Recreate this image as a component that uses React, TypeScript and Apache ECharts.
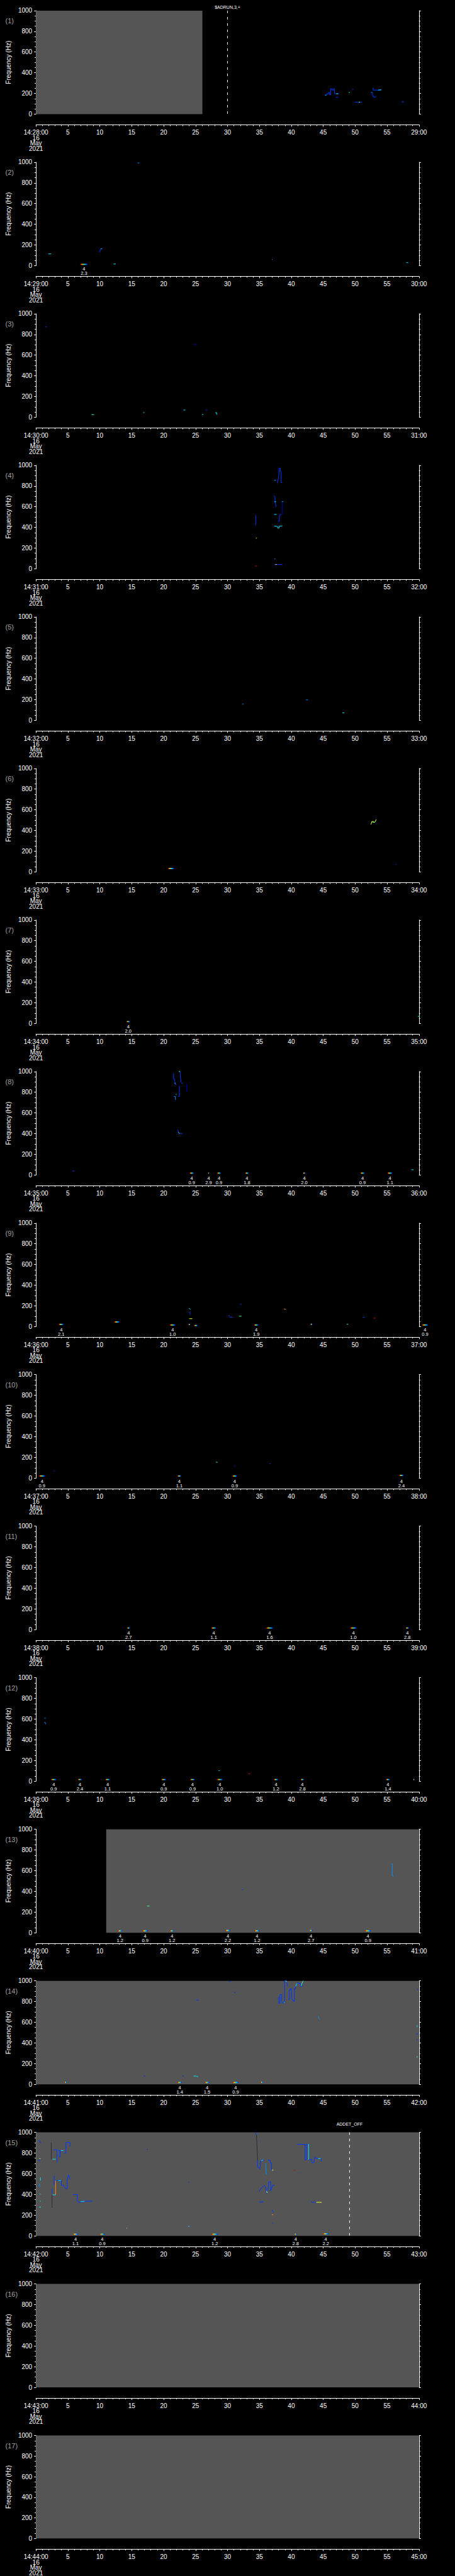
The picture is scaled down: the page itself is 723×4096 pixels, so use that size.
import React, { useEffect, useRef } from 'react';
import * as echarts from 'echarts';

type Pt = [number, number];
type Track = [number, Pt[]];
type Blip = [number, number, number, string | null];

const S = 723 / 1024;
const W = 723;
const H = 4096;
const FONT = "'Liberation Sans', 'DejaVu Sans', Arial, sans-serif";

// tick label data
const hourLabel = '14';
const panelMinutes = [28, 29, 30, 31, 32, 33, 34, 35, 36, 37, 38, 39, 40, 41, 42, 43, 44];
const dateLines = ['16', 'May', '2021'];
const blipCode = '4';

// intensity level -> colour (0 = faint connector)
const levelColors = ['#2c2c2c', '#0000c8', '#0038ff', '#0090ff', '#00e8ff', '#50ff90', '#e8ff20', '#ff8c00', '#e00000'];

// data coverage (grey): [panel, t0, t1]
const coverage: [number, number, number][] = [[0, 0, 26.07], [12, 11, 60], [13, 0, 60], [14, 0, 60], [15, 0, 60], [16, 0, 60]];
// event markers: [panel, t, label]
const eventMarks: [number, number, string][] = [[0, 30.0, '$ADRUN,3,+'], [14, 49.12, 'ADDET_OFF']];

const p1Tracks: Track[] = [
  [2, [[45.3, 183], [45.5, 183], [45.5, 195], [45.8, 195], [45.8, 209], [46.0, 209], [46.0, 187], [46.16, 187], [46.16, 245], [46.35, 245], [46.35, 232], [46.58, 232], [46.58, 245], [46.77, 245], [46.77, 197], [47.5, 197]]],
  [4, [[45.3, 183], [45.45, 183]]],
  [5, [[47.05, 197], [47.3, 197]]],
  [2, [[47.0, 162], [47.3, 162]]],
  [4, [[48.98, 209], [49.17, 209]]],
  [2, [[49.5, 236], [49.6, 240], [49.7, 240]]],
  [2, [[49.93, 116], [50.3, 116], [50.4, 112], [50.6, 112], [50.65, 116], [51.07, 116]]],
  [5, [[50.55, 116], [50.75, 116]]],
  [2, [[52.79, 255], [52.81, 232], [53.67, 232], [54.11, 235]]],
  [4, [[53.6, 232], [54.1, 235]]],
  [2, [[52.51, 209], [52.72, 209], [52.72, 176], [52.84, 176], [52.84, 166], [53.3, 166]]],
  [4, [[52.5, 209], [52.6, 209]]],
  [2, [[57.25, 119], [57.66, 119]]],
];
const p1Blips: Blip[] = [];

const p2Tracks: Track[] = [
  [4, [[1.93, 114], [2.38, 114]]],
  [2, [[10.0, 130], [10.05, 155], [10.15, 160], [10.4, 165]]],
  [4, [[10.15, 162], [10.3, 165]]],
  [4, [[12.15, 16], [12.5, 16]]],
  [3, [[15.9, 993], [16.2, 993]]],
  [3, [[36.95, 58], [37.05, 64]]],
  [4, [[58.0, 29], [58.3, 29]]],
];
const p2Blips: Blip[] = [[6.97, 8.06, 12, '2.3']];

const p3Tracks: Track[] = [
  [2, [[1.47, 873], [1.7, 873]]],
  [5, [[8.7, 26], [9.1, 24]]],
  [4, [[16.8, 45], [17.0, 45]]],
  [4, [[23.1, 70], [23.4, 70]]],
  [1, [[24.8, 704], [25.1, 704]]],
  [4, [[26.0, 26], [26.2, 26]]],
  [2, [[26.6, 70], [26.8, 70]]],
  [4, [[28.1, 45], [28.3, 45], [28.3, 28], [28.4, 26]]],
];
const p3Blips: Blip[] = [];

const p4Tracks: Track[] = [
  [2, [[34.4, 518], [34.45, 505], [34.45, 470], [34.4, 425], [34.4, 418]]],
  [6, [[34.45, 296], [34.6, 296]]],
  [8, [[34.35, 26], [34.6, 26]]],
  [3, [[37.3, 855], [37.6, 855]]],
  [2, [[37.81, 826], [38.03, 893], [38.12, 974], [38.26, 974], [38.26, 941], [38.4, 941], [38.4, 832], [38.58, 832]]],
  [2, [[37.3, 706], [37.45, 690], [37.45, 650], [37.55, 620], [37.6, 597]]],
  [4, [[37.35, 648], [37.6, 648]]],
  [4, [[38.5, 648], [38.7, 648]]],
  [1, [[38.55, 648], [38.55, 525]]],
  [4, [[37.3, 525], [37.7, 525]]],
  [2, [[37.9, 457], [38.1, 460], [38.15, 519], [38.4, 525]]],
  [4, [[37.3, 412], [37.8, 410], [37.9, 392], [38.05, 392], [38.1, 412], [38.6, 414]]],
  [3, [[37.35, 96], [37.5, 96]]],
  [2, [[37.3, 41], [38.6, 41]]],
  [6, [[37.5, 41], [37.7, 41]]],
];
const p4Blips: Blip[] = [];

const p5Tracks: Track[] = [
  [3, [[32.3, 156], [32.5, 156]]],
  [3, [[42.3, 198], [42.6, 198]]],
  [4, [[48.0, 73], [48.3, 73]]],
];
const p5Blips: Blip[] = [];

const p6Tracks: Track[] = [
  [6, [[52.48, 458], [52.61, 487], [52.88, 487], [53.02, 477], [53.15, 487], [53.29, 507]]],
  [5, [[52.7, 480], [53.1, 480]]],
  [1, [[56.3, 72], [56.5, 72]]],
];
const p6Blips: Blip[] = [[20.7, 21.6, 33, null]];

const p7Tracks: Track[] = [
  [4, [[59.8, 68], [60.3, 68]]],
];
const p7Blips: Blip[] = [[14.2, 14.7, 18, '2.0']];

const p8Tracks: Track[] = [
  [2, [[5.7, 38], [6.0, 38]]],
  [2, [[21.55, 982], [21.55, 926], [21.73, 926], [21.73, 907], [21.87, 875], [22.0, 875]]],
  [4, [[21.7, 890], [21.85, 880]]],
  [2, [[22.36, 1000], [22.59, 1000], [22.59, 972], [22.72, 898], [22.86, 889], [22.95, 879]]],
  [5, [[22.4, 1000], [22.55, 1000]]],
  [3, [[21.6, 758], [21.85, 758], [21.85, 725]]],
  [4, [[21.9, 779], [22.05, 779]]],
  [2, [[22.27, 760], [22.46, 760], [22.46, 861]]],
  [1, [[23.64, 879], [23.64, 805]]],
  [2, [[22.22, 438], [22.32, 414], [22.46, 401], [22.78, 401], [22.95, 395]]],
  [4, [[22.3, 414], [22.45, 401]]],
  [4, [[58.8, 51], [59.15, 51]]],
];
const p8Blips: Blip[] = [
  [24.1, 24.7, 18, '0.9'], [26.95, 27.15, 18, '2.9'], [28.4, 28.95, 18, '0.9'], [32.8, 33.3, 18, '1.8'],
  [41.85, 42.2, 18, '2.0'], [50.85, 51.45, 18, '0.9'], [55.1, 55.8, 18, '1.1'],
];

const p9Tracks: Track[] = [
  [4, [[23.95, 178], [24.1, 170], [24.2, 165]]],
  [2, [[24.0, 146], [24.1, 140], [24.15, 120], [24.25, 115]]],
  [6, [[24.0, 76], [24.5, 76]]],
  [2, [[30.2, 110], [30.3, 95], [30.4, 90], [30.8, 90]]],
  [5, [[31.8, 100], [32.2, 100]]],
  [2, [[31.95, 220], [32.1, 215], [32.2, 212]]],
  [7, [[38.85, 170], [39.15, 165]]],
  [5, [[48.7, 22], [48.9, 22]]],
  [2, [[51.2, 90], [51.5, 90]]],
  [8, [[52.9, 81], [53.2, 81]]],
];
const p9Blips: Blip[] = [
  [3.6, 4.3, 21, '2.1'], [21.0, 21.8, 15, '1.0'], [34.2, 34.8, 15, '1.9'], [60.5, 61.4, 15, '0.9'],
  [12.3, 13.05, 44, null], [23.9, 24.15, 20, null], [24.8, 25.3, 10, null], [43.0, 43.3, 22, null],
];

const p10Tracks: Track[] = [
  [2, [[2.75, 68], [2.9, 68]]],
  [5, [[28.2, 155], [28.45, 152]]],
  [2, [[31.05, 116], [31.2, 116]]],
  [2, [[36.6, 139], [36.75, 139]]],
];
const p10Blips: Blip[] = [
  [0.5, 1.4, 20, '0.9'], [22.2, 22.7, 20, '1.1'], [30.8, 31.45, 20, '0.9'], [56.95, 57.55, 26, '2.4'],
];

const p11Tracks: Track[] = [];
const p11Blips: Blip[] = [
  [14.3, 14.7, 16, '2.7'], [27.5, 28.2, 16, '1.1'], [36.1, 37.1, 16, '1.6'], [49.25, 50.2, 16, '1.0'], [57.95, 58.4, 16, '2.8'],
];

const p12Tracks: Track[] = [
  [3, [[1.34, 608], [1.52, 608]]],
  [3, [[1.3, 568], [1.45, 568], [1.5, 555], [1.55, 550]]],
  [4, [[28.6, 100], [28.8, 102]]],
  [8, [[33.3, 72], [33.55, 72]]],
];
const p12Blips: Blip[] = [
  [2.4, 3.15, 16, '0.9'], [6.6, 7.15, 16, '2.4'], [10.9, 11.55, 16, '1.1'], [19.7, 20.35, 16, '0.9'],
  [24.2, 24.85, 16, '0.9'], [28.4, 29.2, 16, '1.0'], [37.3, 37.9, 16, '1.2'], [41.5, 41.95, 16, '2.8'],
  [54.85, 55.4, 16, '1.4'], [59.1, 59.3, 16, null],
];

const p13Tracks: Track[] = [
  [5, [[17.4, 258], [17.8, 258]]],
  [2, [[32.2, 416], [32.4, 416]]],
  [3, [[55.7, 667], [55.8, 667], [55.8, 550], [56.0, 550]]],
];
const p13Blips: Blip[] = [
  [12.85, 13.5, 18, '1.2'], [16.7, 17.5, 18, '0.9'], [21.0, 21.6, 18, '1.2'], [29.7, 30.4, 22, '2.2'],
  [34.25, 35.0, 18, '1.2'], [42.85, 43.3, 22, '2.7'], [51.55, 52.45, 18, '0.9'],
];

const p14Tracks: Track[] = [
  [2, [[16.9, 80], [17.1, 80]]],
  [2, [[22.96, 80], [23.14, 80]]],
  [4, [[24.7, 80], [25.1, 80], [25.2, 74], [25.4, 74]]],
  [2, [[30.2, 994], [30.5, 994]]],
  [2, [[31.04, 887], [31.27, 887]]],
  [2, [[25.1, 814], [25.5, 814]]],
  [3, [[44.2, 660], [44.3, 640], [44.45, 625]]],
  [2, [[38.03, 846], [38.03, 782], [38.22, 782], [38.22, 868], [38.49, 868], [38.49, 797], [38.76, 782], [38.76, 797], [38.94, 797], [38.94, 1000], [39.22, 1000], [39.22, 990], [39.4, 969], [39.4, 947]]],
  [4, [[38.8, 790], [38.94, 797]]],
  [5, [[39.1, 1000], [39.3, 990]]],
  [2, [[39.53, 818], [39.67, 818], [39.67, 911], [39.85, 911], [39.85, 925], [40.03, 925], [40.03, 825], [40.3, 811], [40.3, 803], [40.48, 803], [40.48, 925], [40.66, 925], [40.66, 947], [40.85, 968], [40.98, 982], [41.21, 975], [41.44, 975], [41.44, 947], [41.67, 947], [41.67, 982], [41.85, 1000]]],
  [4, [[40.66, 947], [40.9, 975]]],
  [5, [[41.5, 950], [41.85, 1000]]],
  [2, [[59.75, 925], [59.75, 911]]],
  [2, [[61.1, 920], [61.1, 900]]],
  [6, [[60.8, 747], [61.1, 747]]],
  [2, [[60.9, 747], [60.9, 715]]],
  [4, [[59.7, 570], [59.7, 552]]],
  [5, [[61.05, 570], [61.0, 540]]],
  [2, [[59.7, 497], [59.7, 480]]],
  [4, [[60.85, 510], [60.85, 470]]],
  [2, [[59.65, 437], [59.7, 423]]],
  [4, [[61.0, 418], [61.1, 408]]],
  [4, [[60.9, 331], [61.1, 331]]],
  [4, [[60.8, 282], [61.1, 282]]],
  [5, [[59.6, 264], [59.8, 264]]],
];
const p14Blips: Blip[] = [
  [22.2, 22.85, 17, '1.4'], [26.45, 27.15, 17, '1.5'], [30.8, 31.75, 17, '0.9'], [4.5, 4.8, 20, null], [35.2, 35.55, 20, null],
];

const p15Tracks: Track[] = [
  [2, [[0.6, 925], [0.6, 905], [0.8, 899]]],
  [6, [[0.5, 745], [0.7, 745]]],
  [2, [[0.55, 745], [0.55, 718]]],
  [4, [[0.7, 565], [0.7, 534]]],
  [3, [[0.55, 506], [0.6, 473]]],
  [4, [[0.6, 408], [0.7, 399]]],
  [4, [[0.6, 335], [0.75, 335]]],
  [4, [[0.5, 278], [0.8, 278]]],
  [0, [[2.4, 901], [2.4, 741]]],
  [4, [[2.6, 741], [3.1, 741]]],
  [2, [[2.7, 828], [3.0, 833], [3.3, 833], [3.3, 710]]],
  [2, [[3.5, 825], [3.75, 825], [3.75, 760], [3.85, 825], [4.34, 825]]],
  [4, [[3.9, 825], [4.3, 825]]],
  [2, [[4.34, 802], [4.7, 802], [4.7, 902], [5.34, 902], [5.34, 864]]],
  [2, [[2.85, 580], [2.85, 488]]],
  [2, [[3.07, 534], [3.98, 534], [3.98, 488], [4.34, 488], [4.61, 458], [4.88, 458], [4.88, 534], [5.11, 588], [5.34, 550]]],
  [4, [[3.5, 534], [3.9, 534]]],
  [7, [[3.07, 534], [3.07, 396]]],
  [4, [[2.6, 396], [3.07, 396]]],
  [2, [[2.52, 458], [2.52, 411]]],
  [0, [[2.52, 396], [2.52, 270]]],
  [2, [[5.79, 399], [6.47, 399], [6.47, 335], [6.79, 323], [7.61, 335], [8.88, 335]]],
  [4, [[7.0, 330], [7.6, 335]]],
  [2, [[17.35, 836], [17.5, 836]]],
  [2, [[23.85, 525], [23.95, 514]]],
  [4, [[23.85, 92], [24.05, 92]]],
  [2, [[34.4, 999], [34.5, 975]]],
  [0, [[34.55, 975], [34.72, 730]]],
  [2, [[34.72, 730], [34.72, 664], [35.0, 657]]],
  [2, [[35.05, 914], [35.12, 914]]],
  [2, [[35.08, 642], [35.22, 726], [35.54, 734], [35.77, 731]]],
  [4, [[35.3, 726], [35.6, 734]]],
  [3, [[35.99, 702], [36.05, 596], [36.2, 596]]],
  [2, [[36.31, 731], [36.68, 731], [36.68, 704], [36.9, 704], [36.9, 635], [37.22, 635]]],
  [6, [[36.95, 635], [37.2, 635]]],
  [2, [[34.99, 427], [35.08, 445], [35.77, 488], [35.99, 465], [36.13, 408], [36.31, 434], [36.49, 523], [36.76, 523], [36.76, 434], [37.04, 488], [37.35, 488]]],
  [6, [[36.15, 434], [36.2, 414]]],
  [2, [[34.95, 327], [35.54, 327], [35.54, 338]]],
  [2, [[37.0, 250], [37.2, 228]]],
  [7, [[36.95, 204], [37.15, 204]]],
  [2, [[37.0, 123], [37.15, 123]]],
  [8, [[40.4, 627], [40.6, 640]]],
  [2, [[41.1, 603], [41.2, 603]]],
  [2, [[40.89, 884], [42.12, 884], [42.12, 734], [42.35, 734], [42.35, 884], [42.71, 884], [42.71, 737], [42.94, 737], [43.12, 741], [43.26, 706], [43.49, 706], [43.71, 764], [43.94, 746], [44.16, 746], [44.67, 746], [44.67, 718]]],
  [4, [[42.6, 884], [42.71, 884], [42.71, 737]]],
  [4, [[44.2, 746], [44.6, 746]]],
  [2, [[43.1, 330], [43.3, 324], [43.9, 324]]],
  [6, [[43.9, 324], [44.76, 324]]],
];
const p15Blips: Blip[] = [
  [5.8, 6.6, 16, '1.1'], [10.0, 10.75, 16, '0.9'], [27.5, 28.5, 16, '1.2'], [40.5, 40.85, 16, '2.8'], [44.95, 45.85, 20, '2.2'],
  [14.2, 14.35, 74, null],
];

const p16Tracks: Track[] = [];
const p16Blips: Blip[] = [];
const p17Tracks: Track[] = [];
const p17Blips: Blip[] = [];

const allTracks = [p1Tracks, p2Tracks, p3Tracks, p4Tracks, p5Tracks, p6Tracks, p7Tracks, p8Tracks, p9Tracks, p10Tracks, p11Tracks, p12Tracks, p13Tracks, p14Tracks, p15Tracks, p16Tracks, p17Tracks];
const allBlips = [p1Blips, p2Blips, p3Blips, p4Blips, p5Blips, p6Blips, p7Blips, p8Blips, p9Blips, p10Blips, p11Blips, p12Blips, p13Blips, p14Blips, p15Blips, p16Blips, p17Blips];

function pad2(n: number) {
  return n < 10 ? '0' + n : String(n);
}

function buildOption() {
  const gridLeft = 80 * S;
  const gridW = 863 * S;
  const plotH = 233 * S;
  const grids: any[] = [];
  const xAxes: any[] = [];
  const yAxes: any[] = [];
  const series: any[] = [];
  const graphics: any[] = [];

  for (let k = 0; k < 17; k++) {
    const topRef = 24 + k * 341.3;
    grids.push({ left: gridLeft, top: topRef * S, width: gridW, height: plotH });
    const mm = panelMinutes[k];
    xAxes.push({
      gridIndex: k,
      type: 'value',
      min: 0,
      max: 60,
      interval: 5,
      position: 'bottom',
      offset: 24 * S,
      axisLine: { show: true, onZero: false, lineStyle: { color: '#fff', width: 1 } },
      axisTick: { show: true, length: 3, lineStyle: { color: '#fff', width: 1 } },
      minorTick: { show: true, splitNumber: 5, length: 2, lineStyle: { color: '#fff', width: 1 } },
      splitLine: { show: false },
      axisLabel: {
        color: '#fff',
        fontSize: 10,
        fontFamily: FONT,
        margin: 8,
        lineHeight: 8.5,
        showMinLabel: true,
        showMaxLabel: true,
        formatter: (v: number) => {
          if (v === 0) return `${hourLabel}:${pad2(mm)}:00\n${dateLines.join('\n')}`;
          if (v === 60) return `${pad2(mm + 1)}:00`;
          return String(v);
        },
      },
    });
    yAxes.push({
      gridIndex: k,
      type: 'value',
      position: 'left',
      min: 0,
      max: 1000,
      interval: 200,
      name: 'Frequency (Hz)',
      nameLocation: 'middle',
      nameGap: 35,
      nameRotate: 90,
      nameTextStyle: { color: '#fff', fontSize: 10, fontFamily: FONT },
      axisLine: { show: true, onZero: false, lineStyle: { color: '#fff', width: 1 } },
      axisTick: { show: true, length: 3, lineStyle: { color: '#fff', width: 1 } },
      minorTick: { show: true, splitNumber: 4, length: 2, lineStyle: { color: '#fff', width: 1 } },
      splitLine: { show: false },
      axisLabel: { color: '#fff', fontSize: 10, fontFamily: FONT, margin: 6, formatter: (v: number) => String(v) },
    });
    yAxes.push({
      gridIndex: k,
      type: 'value',
      position: 'right',
      min: 0,
      max: 1000,
      interval: 200,
      axisLine: { show: true, onZero: false, lineStyle: { color: '#fff', width: 1 } },
      axisTick: { show: true, length: 3, lineStyle: { color: '#fff', width: 1 } },
      minorTick: { show: true, splitNumber: 4, length: 2, lineStyle: { color: '#fff', width: 1 } },
      splitLine: { show: false },
      axisLabel: { show: false },
    });
    graphics.push({
      type: 'text',
      x: 8.5,
      y: (topRef + 23) * S,
      style: { text: `(${k + 1})`, fill: '#a0a0a0', fontSize: 11, fontFamily: FONT, align: 'left', verticalAlign: 'middle' },
    });

    // tracks
    allTracks[k].forEach((tr) => {
      series.push({
        type: 'line',
        xAxisIndex: k,
        yAxisIndex: 2 * k,
        data: tr[1],
        symbol: 'none',
        showSymbol: false,
        clip: false,
        silent: true,
        z: 4,
        lineStyle: { color: levelColors[tr[0]], width: 1 },
      });
    });

    // blips with annotation
    const list = allBlips[k];
    if (list.length) {
      series.push({
        type: 'custom',
        xAxisIndex: k,
        yAxisIndex: 2 * k,
        clip: false,
        silent: true,
        z: 5,
        data: list.map((b) => [b[0], b[1], b[2]]),
        encode: { x: [0, 1], y: 2 },
        renderItem: (params: any, api: any) => {
          const t0 = api.value(0);
          const t1 = api.value(1);
          const f = api.value(2);
          const a = api.coord([t0, f]);
          const b = api.coord([t1, f]);
          const base = api.coord([(t0 + t1) / 2, 0]);
          const w = Math.max(1.5, b[0] - a[0]);
          const children: any[] = [
            {
              type: 'rect',
              shape: { x: a[0], y: a[1] - 0.9, width: w, height: 1.8 },
              style: {
                fill: new echarts.graphic.LinearGradient(0, 0, 1, 0, [
                  { offset: 0, color: '#d00000' },
                  { offset: 0.3, color: '#ffd000' },
                  { offset: 0.6, color: '#00e0ff' },
                  { offset: 1, color: '#0018ff' },
                ]),
              },
            },
          ];
          const lab = list[params.dataIndex][3];
          if (lab) {
            const cx = a[0] + w / 2;
            children.push({
              type: 'text',
              x: cx,
              y: base[1] + 5,
              style: { text: blipCode, fill: '#fff', fontSize: 7.5, fontFamily: FONT, align: 'center', verticalAlign: 'middle' },
            });
            children.push({
              type: 'text',
              x: cx,
              y: base[1] + 12,
              style: { text: lab, fill: '#fff', fontSize: 7.5, fontFamily: FONT, align: 'center', verticalAlign: 'middle' },
            });
          }
          return { type: 'group', children };
        },
      });
    }
  }

  // grey coverage
  coverage.forEach((c) => {
    const k = c[0];
    series.push({
      type: 'custom',
      xAxisIndex: k,
      yAxisIndex: 2 * k,
      silent: true,
      z: 1,
      data: [[c[1], c[2], 0, 1000]],
      encode: { x: [0, 1], y: [2, 3] },
      renderItem: (_p: any, api: any) => {
        const a = api.coord([api.value(0), api.value(3)]);
        const b = api.coord([api.value(1), api.value(2)]);
        return { type: 'rect', shape: { x: a[0], y: a[1], width: b[0] - a[0], height: b[1] - a[1] }, style: { fill: '#555555' } };
      },
    });
  });

  // event markers
  eventMarks.forEach((e) => {
    const k = e[0];
    const labelOffset = k === 0 ? 8.3 * S : 18 * S;
    series.push({
      type: 'custom',
      xAxisIndex: k,
      yAxisIndex: 2 * k,
      silent: true,
      clip: false,
      z: 6,
      data: [[e[1], 0, 1000]],
      encode: { x: 0, y: [1, 2] },
      renderItem: (_p: any, api: any) => {
        const top = api.coord([api.value(0), 1000]);
        const bot = api.coord([api.value(0), 0]);
        return {
          type: 'group',
          children: [
            { type: 'line', shape: { x1: top[0], y1: top[1], x2: bot[0], y2: bot[1] }, style: { stroke: '#fff', lineWidth: 1, lineDash: [4, 6] } },
            { type: 'text', x: top[0], y: top[1] - labelOffset, style: { text: e[2], fill: '#fff', fontSize: 7, fontFamily: FONT, align: 'center', verticalAlign: 'middle' } },
          ],
        };
      },
    });
  });

  return {
    animation: false,
    backgroundColor: '#000',
    grid: grids,
    xAxis: xAxes,
    yAxis: yAxes,
    series,
    graphic: graphics,
  };
}

export default function App() {
  const ref = useRef<HTMLDivElement>(null);
  useEffect(() => {
    document.body.style.margin = '0';
    document.body.style.background = '#000';
    if (!ref.current) return;
    const chart = echarts.init(ref.current, undefined, { renderer: 'svg' });
    chart.setOption(buildOption() as any);
    return () => chart.dispose();
  }, []);
  return <div ref={ref} style={{ position: 'absolute', left: 0, top: 0, width: W, height: H, background: '#000' }} />;
}
